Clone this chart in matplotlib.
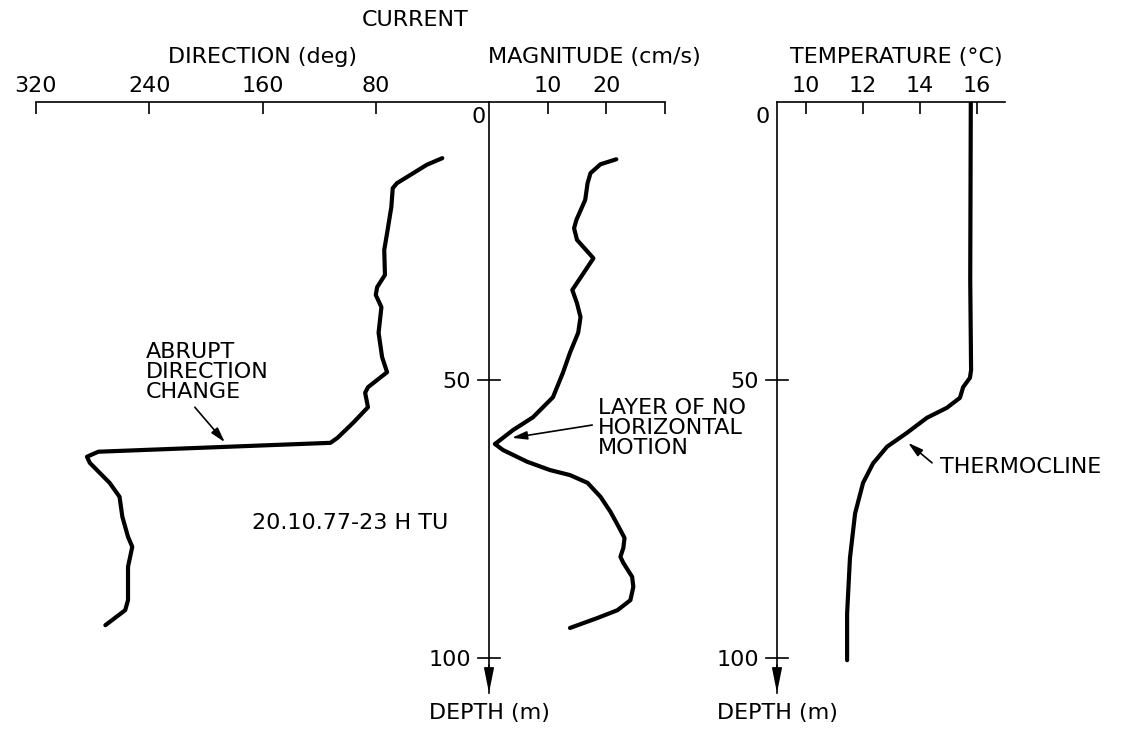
import numpy as np
import matplotlib.pyplot as plt

# current direction profile (deg) vs depth (m)
dir_depth = [10.1, 11.3, 14.6, 15.5, 18.9, 23.6, 26.6, 31.1, 33.3, 34.7, 36.9,
             41.5, 45.9, 48.6, 51.3, 52.3, 54.9, 57.7, 60.4, 61.3, 62.9, 63.8,
             64.9, 68.5, 71.0, 74.6, 78.2, 80.0, 83.6, 89.6, 91.4, 94.1]
direction = [33, 44, 65, 68, 69, 72, 74, 73.5, 79, 80, 76,
             78, 75.5, 72, 85.5, 87.5, 85.5, 96, 107, 112, 276, 284,
             282, 268, 261, 259, 255, 252, 255, 255, 257, 271]

# current magnitude profile (cm/s) vs depth (m)
mag_depth = [10.3, 11.2, 12.8, 14.6, 17.6, 21.2, 22.7, 24.8, 28.1, 30.8, 33.8,
             36.2, 38.7, 41.5, 45.1, 48.7, 53.1, 56.7, 59.0, 61.2, 61.5, 62.6,
             64.7, 66.2, 67.1, 68.5, 71.0, 73.7, 76.4, 78.4, 80.2, 81.8, 82.9,
             85.4, 87.2, 89.6, 91.4, 92.8, 94.6]
magnitude = [21.7, 19.0, 17.3, 16.8, 16.4, 14.9, 14.5, 15.0, 17.8, 16.1, 14.2,
             15.0, 15.6, 15.2, 13.8, 12.6, 10.9, 7.5, 4.1, 1.4, 1.0, 2.4,
             6.5, 10.4, 13.8, 16.8, 19.0, 20.7, 22.1, 23.1, 22.9, 22.4, 22.9,
             24.4, 24.6, 24.1, 21.9, 18.5, 13.8]

# temperature profile (deg C) vs depth (m)
temp_depth = [0, 32, 48.2, 49.6, 51.3, 53.2, 55, 56.8, 59.5, 62, 65, 68.5,
              74, 82, 92, 100.4]
temperature = [15.8, 15.78, 15.81, 15.77, 15.53, 15.42, 14.96, 14.26, 13.56,
               12.86, 12.37, 12.02, 11.74, 11.56, 11.46, 11.46]

dir_ticks = [320, 240, 160, 80]
mag_ticks = [10, 20, 30]
mag_ticklabels = ['10', '20', '']
temp_ticks = [10, 12, 14, 16]
depth_ticks = [50, 100]

W, H = 1122, 732
FS = 16
plt.rcParams['font.family'] = 'DejaVu Sans'

fig = plt.figure(figsize=(W / 100, H / 100), dpi=100)

# depth scale: 0 m at y=102 px, 5.56 px per metre, arrow tip at y=693
Y0, Y1 = 102, 693
DMAX = (Y1 - Y0) / 5.56


def px_axes(x0, x1):
    return fig.add_axes([x0 / W, 1 - Y1 / H, (x1 - x0) / W, (Y1 - Y0) / H])


def style_top(ax, ticks, labels=None):
    for s in ('bottom', 'left', 'right'):
        ax.spines[s].set_visible(False)
    ax.spines['top'].set_linewidth(1.2)
    ax.xaxis.tick_top()
    ax.set_xticks(ticks)
    if labels is not None:
        ax.set_xticklabels(labels)
    ax.tick_params(axis='x', direction='in', length=8.5, width=1.2,
                   labelsize=FS, pad=4)
    ax.set_ylim(DMAX, 0)
    ax.set_yticks([])
    ax.patch.set_alpha(0)


def depth_axis(ax, x, half_width, zero_dx):
    # vertical depth axis ending in an arrow, with "+" marks at 50 and 100 m
    ax.spines['left'].set_visible(True)
    ax.spines['left'].set_linewidth(1.2)
    ax.spines['left'].set_position(('data', x))
    ax.set_yticks(depth_ticks)
    ax.tick_params(axis='y', length=0, labelsize=FS, pad=13)
    for d in depth_ticks:
        ax.plot([x - half_width, x + half_width], [d, d], color='black',
                lw=1.2, clip_on=False)
    ax.annotate('', xy=(x, DMAX), xytext=(x, DMAX - 5),
                arrowprops=dict(arrowstyle='-|>,head_length=1.5,head_width=0.3',
                                color='black', lw=1.2, shrinkA=0, shrinkB=0),
                annotation_clip=False)
    ax.annotate('0', xy=(x, 0), xytext=(zero_dx, -11), textcoords='offset points',
                ha='right', va='center', fontsize=FS, annotation_clip=False)


# direction axis, reversed so 0 deg sits on the depth axis
ax_dir = px_axes(36, 489)
ax_dir.set_xlim(320, 0)
style_top(ax_dir, dir_ticks)
ax_dir.plot(direction, dir_depth, color='black', lw=3, solid_joinstyle='round',
            solid_capstyle='round')

# magnitude axis shares the depth axis at 0 cm/s
ax_mag = px_axes(489, 665)
ax_mag.set_xlim(0, 30)
style_top(ax_mag, mag_ticks, mag_ticklabels)
depth_axis(ax_mag, 0, 11 / 5.85, -2)
ax_mag.plot(magnitude, mag_depth, color='black', lw=3, solid_joinstyle='round',
            solid_capstyle='round')

# temperature panel
ax_temp = px_axes(777, 1005)
ax_temp.set_xlim(9, 17)
style_top(ax_temp, temp_ticks)
depth_axis(ax_temp, 9, 11 / 28.5, -5)
ax_temp.plot(temperature, temp_depth, color='black', lw=3, solid_joinstyle='round',
             solid_capstyle='round')


def ftext(x, y, s, **kw):
    kw.setdefault('ha', 'center')
    kw.setdefault('va', 'center')
    fig.text(x / W, 1 - y / H, s, fontsize=FS, **kw)


ftext(415, 20, 'CURRENT')
ftext(262, 57, 'DIRECTION (deg)')
ftext(594, 57, 'MAGNITUDE (cm/s)')
ftext(896, 57, 'TEMPERATURE (°C)')
ftext(489, 713, 'DEPTH (m)')
ftext(777, 713, 'DEPTH (m)')
ftext(350, 523, '20.10.77-23 H TU')

arrow = dict(arrowstyle='-|>,head_length=0.9,head_width=0.25', color='black',
             lw=1.2, shrinkA=0, shrinkB=0)

ax_dir.annotate('', xy=(186.6, 61.2), xytext=(207.8, 54.9), arrowprops=arrow)
ftext(146, 372, 'ABRUPT\nDIRECTION\nCHANGE', ha='left', linespacing=1.0)

ax_mag.annotate('', xy=(3.9, 60.4), xytext=(17.6, 58.1), arrowprops=arrow)
ftext(598, 428, 'LAYER OF NO\nHORIZONTAL\nMOTION', ha='left', linespacing=1.0)

ax_temp.annotate('', xy=(13.6, 61.3), xytext=(14.44, 64.9), arrowprops=arrow)
ftext(940, 467, 'THERMOCLINE', ha='left')

fig.savefig('out.png', dpi=100)
